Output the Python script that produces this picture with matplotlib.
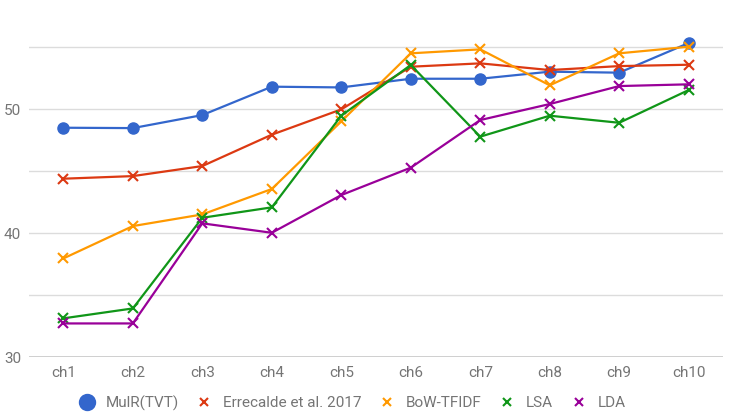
import matplotlib.pyplot as plt
from matplotlib.lines import Line2D

chapters = ["ch1", "ch2", "ch3", "ch4", "ch5", "ch6", "ch7", "ch8", "ch9", "ch10"]

mulr = [48.52, 48.49, 49.54, 51.83, 51.77, 52.47, 52.47, 53.04, 52.96, 55.35]
errecalde = [44.41, 44.62, 45.43, 47.96, 50.0, 53.44, 53.71, 53.17, 53.49, 53.60]
bow_tfidf = [37.98, 40.59, 41.53, 43.58, 49.03, 54.52, 54.84, 51.94, 54.52, 55.05]
lsa = [33.15, 33.95, 41.26, 42.10, 49.49, 53.58, 47.80, 49.49, 48.92, 51.56]
lda = [32.74, 32.74, 40.81, 40.05, 43.09, 45.30, 49.14, 50.43, 51.88, 52.02]

series = [
    ("MulR(TVT)", mulr, "#3366CC", "o"),
    ("Errecalde et al. 2017", errecalde, "#DC3912", "x"),
    ("BoW-TFIDF", bow_tfidf, "#FF9900", "x"),
    ("LSA", lsa, "#109618", "x"),
    ("LDA", lda, "#990099", "x"),
]

plt.rcParams["font.family"] = ["Roboto", "DejaVu Sans"]
text_color = "#757575"

fig = plt.figure(figsize=(7.33, 4.2), dpi=100)
ax = fig.add_axes([0.040, 0.149, 0.946, 0.815])

x = list(range(len(chapters)))
handles = []
for name, vals, color, marker in series:
    if marker == "o":
        ax.plot(x, vals, color=color, lw=1.6, marker="o", markersize=8, zorder=3)
    else:
        ax.plot(x, vals, color=color, lw=1.6, marker="x", markersize=7,
                markeredgewidth=1.5, zorder=3)
    handles.append(Line2D([], [], color=color, marker=marker, linestyle="none",
                          markersize=11 if marker == "o" else 6,
                          markeredgewidth=1.5, label=name))

ax.set_xlim(-0.49, 9.49)
ax.set_ylim(30, 57.6)
ax.set_yticks([30, 40, 50])
ax.set_yticks([35, 45, 55], minor=True)
ax.set_xticks(x)
ax.set_xticklabels(chapters)
ax.grid(axis="y", which="both", color="#dcdcdc", lw=1)
ax.set_axisbelow(True)
for s in ax.spines.values():
    s.set_visible(False)
ax.axhline(30, color="#c8c8c8", lw=1.2, zorder=1)
ax.tick_params(axis="both", which="both", length=0, colors=text_color, labelsize=11)
ax.tick_params(axis="y", pad=6)
ax.tick_params(axis="x", pad=6)

fig.legend(handles=handles, loc="center left", bbox_to_anchor=(0.1078, 0.0405),
           ncol=5, frameon=False, fontsize=11, labelcolor=text_color,
           borderaxespad=0, borderpad=0,
           handlelength=1.0, handletextpad=0.75, columnspacing=1.15)

fig.savefig("out.png", dpi=100)
